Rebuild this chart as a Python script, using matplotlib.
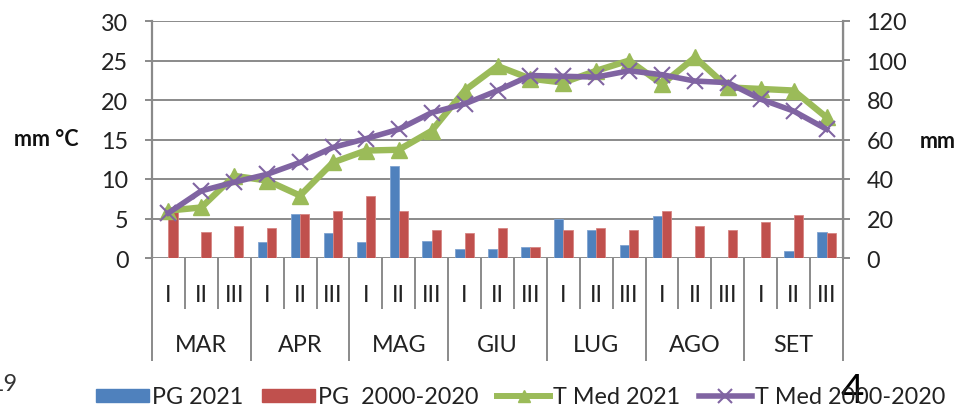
import matplotlib
matplotlib.use("Agg")
import matplotlib.pyplot as plt
from matplotlib.patches import Patch
from matplotlib.lines import Line2D
import numpy as np

decades = ["I", "II", "III"]
months = ["MAR", "APR", "MAG", "GIU", "LUG", "AGO", "SET"]
pg_2021 = [0, 0, 0, 2.0, 5.6, 3.2, 2.0, 11.6, 2.2, 1.2, 1.2, 1.4,
           5.0, 3.5, 1.7, 5.3, 0, 0, 0, 0.9, 3.3]
pg_hist = [5.8, 3.3, 4.1, 3.8, 5.6, 5.9, 7.9, 5.9, 3.6, 3.2, 3.8, 1.4,
           3.5, 3.8, 3.5, 5.9, 4.1, 3.6, 4.6, 5.4, 3.2]
t_2021 = [6.0, 6.4, 10.4, 9.8, 7.9, 12.1, 13.6, 13.7, 16.1, 21.2, 24.3, 22.7,
          22.2, 23.7, 25.0, 22.0, 25.4, 21.6, 21.4, 21.2, 17.8]
t_hist = [5.7, 8.5, 9.6, 10.6, 12.1, 14.0, 15.1, 16.3, 18.4, 19.5, 21.2, 23.1,
          23.0, 22.9, 23.7, 23.2, 22.4, 22.2, 20.1, 18.6, 16.3]
left_ticks = [0, 5, 10, 15, 20, 25, 30]
right_ticks = [0, 20, 40, 60, 80, 100, 120]
legend_labels = ["PG 2021", "PG  2000-2020", "T Med 2021", "T Med 2000-2020"]

plt.rcParams["font.family"] = ["Lato", "DejaVu Sans"]
FS = 16.8
GRID = "#8a8a8a"
BLUE = "#4F81BD"
RED = "#C0504D"
GREEN = "#9BBB59"
PURPLE = "#8064A2"

fig = plt.figure(figsize=(9.65, 4.10), dpi=100)
ax = fig.add_axes([152 / 965, 1 - 259 / 410, (843 - 152) / 965, (259 - 22) / 410])

n = len(pg_2021)
x = np.arange(n)
bw = 0.28
ax.bar(x - bw / 2, pg_2021, bw, color=BLUE, edgecolor="#7fa3d0", linewidth=0.6, zorder=2)
ax.bar(x + bw / 2, pg_hist, bw, color=RED, edgecolor="#d68583", linewidth=0.6, zorder=2)
ax.plot(x, t_2021, color=GREEN, lw=4.6, marker="^", ms=12, mec=GREEN, mfc=GREEN,
        zorder=3, solid_joinstyle="round")
ax.plot(x, t_hist, color=PURPLE, lw=4.0, marker="x", ms=12, mew=1.5, mec=PURPLE,
        zorder=4, solid_joinstyle="round")

ax.set_xlim(-0.5, n - 0.5)
ax.set_ylim(0, 30)
ax.set_yticks(left_ticks)
ax.yaxis.grid(True, color=GRID, lw=1.4, zorder=0)
ax.set_axisbelow(True)
ax.tick_params(axis="y", direction="out", length=5, width=1.4, color=GRID,
               labelsize=FS, pad=12, labelcolor="#222222")

for s in ["top", "bottom"]:
    ax.spines[s].set_visible(False)
ax.spines["left"].set_color(GRID)
ax.spines["left"].set_linewidth(1.6)

# x axis: month boundaries (long) and decade boundaries (short)
month_bounds = [-0.5 + 3 * i for i in range(len(months) + 1)]
dec_bounds = [b + 0.5 for b in range(n - 1) if (b + 1) % 3 != 0]
ax.set_xticks(month_bounds)
ax.set_xticks(dec_bounds, minor=True)
ax.set_xticklabels([])
ax.tick_params(axis="x", which="major", direction="out", length=74, width=1.4, color=GRID)
ax.tick_params(axis="x", which="minor", direction="out", length=37, width=1.4, color=GRID)

trans = ax.get_xaxis_transform()
for i in range(n):
    ax.text(i, -0.152, decades[i % 3], transform=trans, ha="center", va="center",
            fontsize=FS, color="#222222", clip_on=False)
for j, m in enumerate(months):
    ax.text(3 * j + 1, -0.363, m, transform=trans, ha="center", va="center",
            fontsize=FS, color="#222222", clip_on=False)

ax2 = ax.twinx()
ax2.set_ylim(0, 120)
ax2.set_yticks(right_ticks)
ax2.tick_params(axis="y", direction="out", length=5, width=1.4, color=GRID,
                labelsize=FS, pad=12, labelcolor="#222222")
for s in ["top", "bottom", "left"]:
    ax2.spines[s].set_visible(False)
ax2.spines["right"].set_color(GRID)
ax2.spines["right"].set_linewidth(1.6)

fig.text(14 / 965, 1 - 140 / 410, "mm °C", fontsize=15.5, fontweight="bold",
         ha="left", va="center", color="#111111")
fig.text(920 / 965, 1 - 142 / 410, "mm", fontsize=15.5, fontweight="bold",
         ha="left", va="center", color="#111111")

handles = [
    Patch(facecolor=BLUE, edgecolor=BLUE),
    Patch(facecolor=RED, edgecolor=RED),
    Line2D([], [], color=GREEN, lw=4.3, marker="^", ms=9, mfc=GREEN, mec=GREEN),
    Line2D([], [], color=PURPLE, lw=4.0, marker="x", ms=10, mew=1.5, mec=PURPLE),
]
fig.legend(handles, legend_labels, loc="center", bbox_to_anchor=(521 / 965, 1 - 398 / 410),
           ncol=4, frameon=False, fontsize=FS, handlelength=2.25, handleheight=0.5,
           handletextpad=0.15, columnspacing=0.8, borderpad=0, labelcolor="#222222")

fig.text(17 / 965, 1 - 385 / 410, "19", fontsize=FS, ha="right", va="center", color="#333333")
fig.text(852 / 965, 1 - 392 / 410, "4", fontsize=29, ha="center", va="center",
         color="#000000", fontweight="normal")

fig.savefig("out.png", dpi=100)
